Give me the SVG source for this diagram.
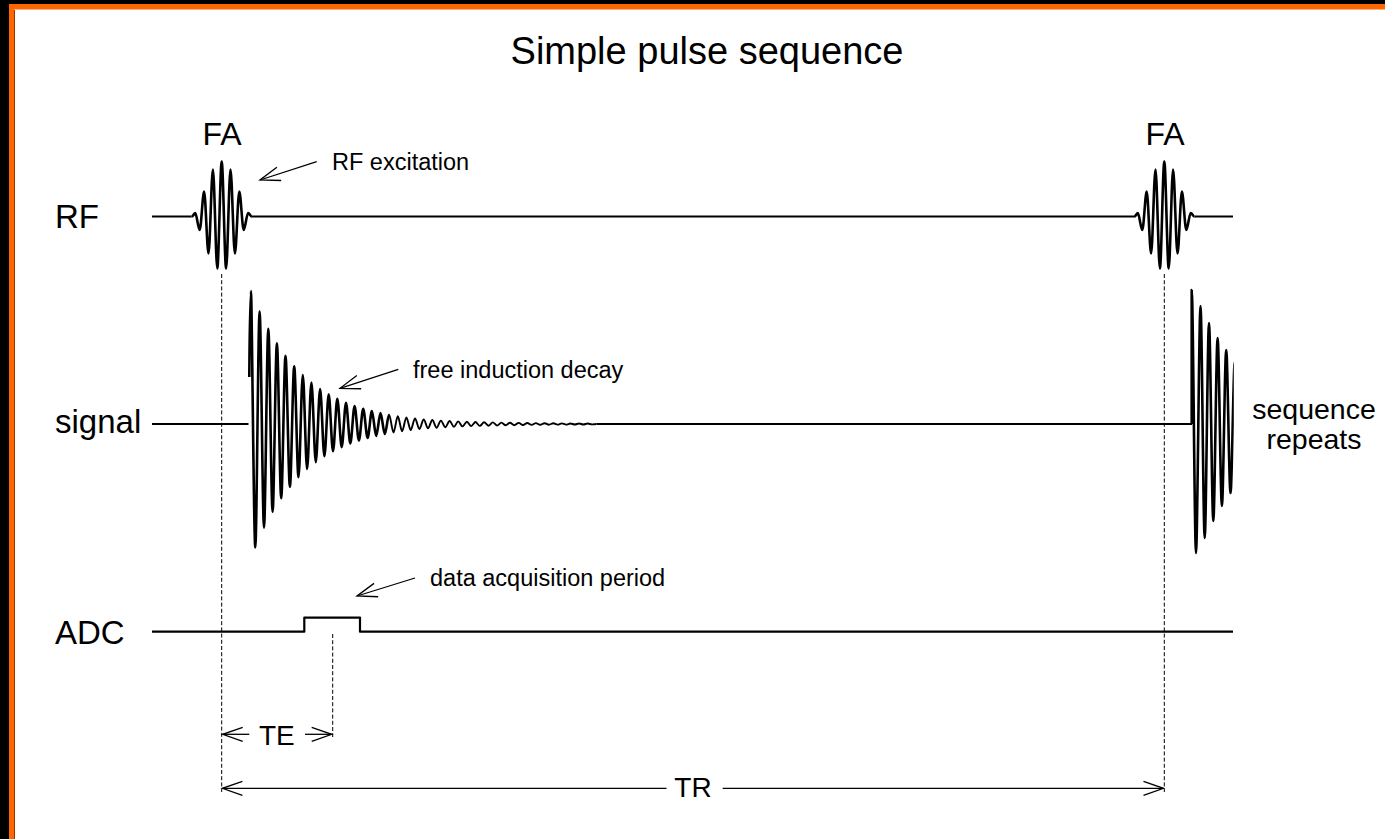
<svg xmlns="http://www.w3.org/2000/svg" width="1385" height="839" viewBox="0 0 1385 839">
<style>
text{font-family:"Liberation Sans",Arial,Helvetica,sans-serif;fill:#000}
.lbl{font-size:33px}
.ann{font-size:23.5px}
.fa{font-size:32px;text-anchor:middle}
.dim{font-size:28px}
.trace{fill:none;stroke:#000;stroke-linejoin:round;stroke-linecap:butt}
.dash{fill:none;stroke:#000;stroke-width:1;stroke-dasharray:4 2.2}
.arr{fill:none;stroke:#000;stroke-width:1.3}
</style>
<defs>
<marker id="ah" markerUnits="userSpaceOnUse" viewBox="-22 -9 24 18" markerWidth="24" markerHeight="18" refX="0" refY="0" orient="auto-start-reverse" overflow="visible">
<path d="M-20,-7 L0,0 L-20,7" fill="none" stroke="#000" stroke-width="1.3"/>
</marker>
<clipPath id="clipRep"><rect x="1150" y="250" width="83.8" height="330"/></clipPath>
</defs>
<!-- frame -->
<rect x="0" y="0" width="1385" height="839" fill="#000"/>
<rect x="9" y="4" width="1376" height="835" fill="#FF6600"/>
<rect x="14" y="9" width="1371" height="830" fill="#993300"/>
<rect x="14" y="9" width="1371" height="1" fill="#FFB27A"/>
<rect x="15" y="10" width="1370" height="829" fill="#FFFFFF"/>

<g id="title"><text x="707" y="64" font-size="38" text-anchor="middle">Simple pulse sequence</text></g>

<g id="node-rf">
<text class="lbl" x="55" y="228">RF</text>
<text class="fa" x="222" y="145">FA</text>
<text class="fa" x="1165" y="145">FA</text>
<path class="trace" stroke-width="2" d="M152,216.5 H191.5"/>
<path class="trace" stroke-width="2" d="M251.9,216.5 H1134.1"/>
<path class="trace" stroke-width="2" d="M1194.5,216.5 H1233"/>
<path id="pulse1" class="trace" stroke-width="2.6" d="M191.5,216.5 c2,0 2.5,-3.5 3.8,-3.5 s2.95,17 4.4,17 s2.95,-38.5 4.4,-38.5 s2.95,62 4.4,62 s2.95,-84 4.4,-84 s2.95,99 4.4,99 s2.95,-107 4.4,-107 s2.95,107 4.4,107 s2.95,-99 4.4,-99 s2.95,84 4.4,84 s2.95,-62 4.4,-62 s2.95,38.5 4.4,38.5 s2.95,-17 4.4,-17 s2.3,3.5 3.8,3.5"/>
<path class="trace" stroke-width="2.6" transform="translate(942.6,0)" d="M191.5,216.5 c2,0 2.5,-3.5 3.8,-3.5 s2.95,17 4.4,17 s2.95,-38.5 4.4,-38.5 s2.95,62 4.4,62 s2.95,-84 4.4,-84 s2.95,99 4.4,99 s2.95,-107 4.4,-107 s2.95,107 4.4,107 s2.95,-99 4.4,-99 s2.95,84 4.4,84 s2.95,-62 4.4,-62 s2.95,38.5 4.4,38.5 s2.95,-17 4.4,-17 s2.3,3.5 3.8,3.5"/>
<text class="ann" x="332" y="170">RF excitation</text>
</g>

<g id="node-signal">
<text class="lbl" x="55" y="433">signal</text>
<path class="trace" stroke-width="2" d="M152,424 H248.5"/>
<path class="trace" stroke-width="2.6" d="M249.3,377 C249.6,330 250.2,291 251,291 S253.9,547.4 255.3,547.4 S258.2,311.4 259.6,311.4 S262.6,527.6 264,527.6 S266.9,328.7 268.3,328.7 S271.2,511.7 272.6,511.7 S275.5,343.4 276.9,343.4 S279.8,498.2 281.2,498.2 S284.1,355.7 285.5,355.7 S288.5,486.8 289.9,486.8 S292.8,366.2 294.2,366.2 S297.1,477.2 298.5,477.2 S301.4,375.1 302.8,375.1 S305.7,469 307.1,469 S310,382.6 311.4,382.6 S314.4,462.1 315.8,462.1 S318.7,389 320.1,389 S323,456.2 324.4,456.2 S327.3,394.4 328.7,394.4 S331.6,451.3 333,451.3 S335.9,398.9 337.3,398.9 S340.3,447.1 341.7,447.1 S344.6,402.8 346,402.8 S348.9,443.5 350.3,443.5 S353.2,406 354.6,406 S357.5,440.5 358.9,440.5 S361.8,408.8 363.2,408.8 S366.2,438 367.6,438 S370.5,411.1 371.9,411.1 S374.8,435.9 376.2,435.9 S379.1,413.1 380.5,413.1 S383.4,434 384.8,434 S387.7,414.8 389.1,414.8"/>
<path class="trace" stroke-width="1.9" d="M389.1,414.8 C390.5,414.8 392.1,432.5 393.5,432.5 S396.4,416.2 397.8,416.2 S400.7,431.2 402.1,431.2 S405,417.4 406.4,417.4 S409.3,430.1 410.7,430.1 S413.6,418.4 415,418.4 S418,429 419.4,429 S422.3,419.4 423.7,419.4 S426.6,428.3 428,428.3 S430.9,420 432.3,420 S435.2,427.7 436.6,427.7 S439.5,420.6 440.9,420.6 S443.9,427.2 445.3,427.2 S448.2,421 449.6,421 S452.5,426.8 453.9,426.8 S456.8,421.4 458.2,421.4 S461.1,426.4 462.5,426.4 S465.5,421.7 466.9,421.7 S469.8,426.1 471.2,426.1 S474.1,422 475.5,422 S478.4,425.9 479.8,425.9 S482.7,422.2 484.1,422.2 S487,425.7 488.4,425.7 S491.4,422.4 492.8,422.4 S495.7,425.5 497.1,425.5 S500,422.6 501.4,422.6 S504.3,425.3 505.7,425.3 S508.6,422.8 510,422.8 S512.9,425.2 514.3,425.2 S517.3,422.9 518.7,422.9 S521.6,425 523,425 S525.9,423 527.3,423 S530.2,424.9 531.6,424.9 S534.5,423.1 535.9,423.1 S538.8,424.8 540.2,424.8 S543.2,423.2 544.6,423.2 S547.5,424.7 548.9,424.7 S551.8,423.3 553.2,423.3 S556.1,424.65 557.5,424.65 S560.4,423.4 561.8,423.4 S564.7,424.58 566.1,424.58 S569.1,423.45 570.5,423.45 S573.4,424.52 574.8,424.52 S577.7,423.5 579.1,423.5 S582,424.47 583.4,424.47 S586.3,423.55 587.7,423.55 S590.6,424.42 592,424.42 S595,424 596.4,424"/>
<path class="trace" stroke-width="2" d="M596.4,424 H1192"/>
<path class="trace" stroke-width="2.6" clip-path="url(#clipRep)" d="M1191.7,424 L1191.7,290 C1193.1,290 1194.6,553 1196,553 S1199.1,306 1200.5,306 S1203.3,538 1204.7,538 S1207.6,323 1209,323 S1211.9,521 1213.3,521 S1216.2,338 1217.6,338 S1220.5,506 1221.9,506 S1224.8,350 1226.2,350 S1229.1,493 1230.5,493 S1233.4,362 1234.8,362"/>
<text class="ann" x="413" y="378">free induction decay</text>
<text font-size="28.5" text-anchor="middle" x="1314" y="419">sequence</text>
<text font-size="28.5" text-anchor="middle" x="1314" y="449">repeats</text>
</g>

<g id="node-adc">
<text class="lbl" x="55" y="644">ADC</text>
<path class="trace" stroke-width="2.2" d="M152,631.7 H304.3 V617.7 H360 V631.7 H1233"/>
<text class="ann" x="430" y="586">data acquisition period</text>
</g>

<g id="node-timing">
<text class="dim" x="259" y="745">TE</text>
<text class="dim" x="693" y="797" text-anchor="middle">TR</text>
</g>

<g id="connectors">
<path class="dash" d="M221.7,274 V792"/>
<path class="dash" d="M1164.3,274 V792"/>
<path class="dash" d="M332.7,634 V737"/>
<path class="arr" d="M316.7,161.7 L260,180" marker-end="url(#ah)"/>
<path class="arr" d="M398.3,369.3 L340,388.3" marker-end="url(#ah)"/>
<path class="arr" d="M415,578 L357,596" marker-end="url(#ah)"/>
<path class="arr" d="M222.7,734.3 H249.3" marker-start="url(#ah)"/>
<path class="arr" d="M305,734.3 H331.7" marker-end="url(#ah)"/>
<path class="arr" d="M222.4,788.3 H666.5" marker-start="url(#ah)"/>
<path class="arr" d="M722.7,788.3 H1163.5" marker-end="url(#ah)"/>
</g>
</svg>
